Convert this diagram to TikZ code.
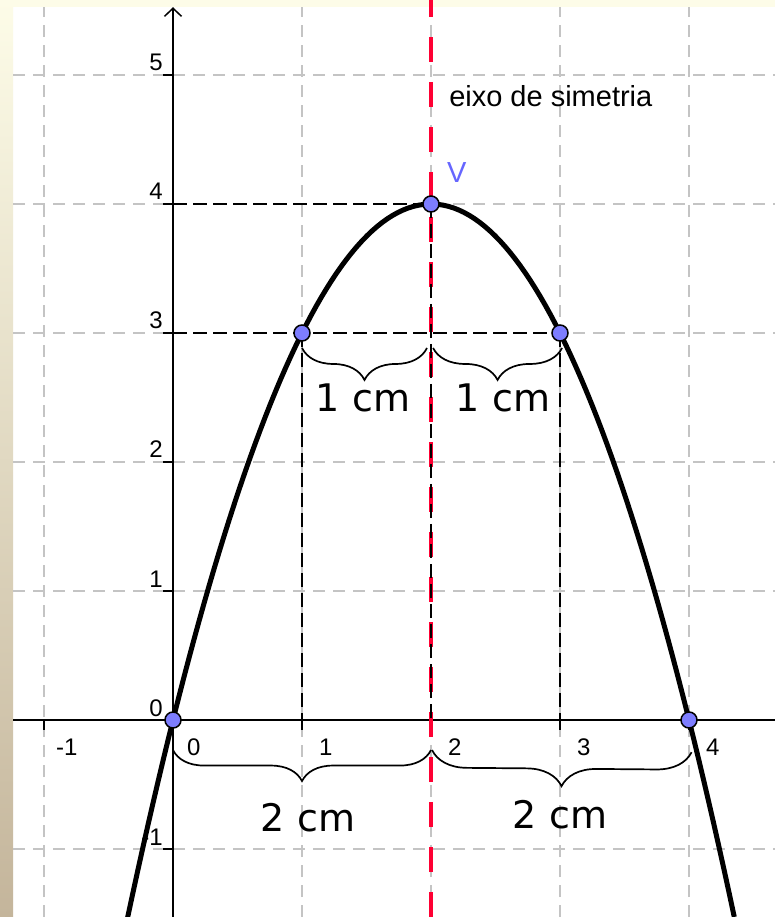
\documentclass[tikz,border=0pt]{standalone}
\usepackage{fontspec}
\setmainfont{Liberation Sans}
\newfontfamily\handfont{DejaVu Sans}
\usetikzlibrary{decorations.pathreplacing,arrows.meta}
\definecolor{gridgray}{RGB}{196,196,196}
\definecolor{symred}{RGB}{255,0,51}
\definecolor{ptblue}{RGB}{125,125,255}
\definecolor{vblue}{RGB}{102,102,255}
\definecolor{cream}{RGB}{253,252,232}
\definecolor{tanbg}{RGB}{196,181,155}
\begin{document}
\begin{tikzpicture}[x=129pt,y=129pt,
  gridline/.style={gridgray, line width=1.6pt, dash pattern=on 12pt off 8pt},
  guide/.style={black, line width=1.6pt, dash pattern=on 14pt off 6pt},
  redline/.style={symred, line width=3.5pt, dash pattern=on 25pt off 20pt},
  axisline/.style={black, line width=1.5pt},
  curve/.style={black, line width=5pt},
  bracestyle/.style={decorate, line width=1.7pt},
  ptmark/.style={circle, fill=ptblue, draw=black, line width=1.5pt, minimum size=16pt, inner sep=0pt},
  ticklab/.style={font=\fontsize{24}{28}\selectfont, inner sep=0pt},
  biglab/.style={font=\fontsize{29}{34}\selectfont, inner sep=0pt},
  cmlab/.style={font=\handfont\fontsize{38}{44}\selectfont, inner sep=0pt}
]
\useasboundingbox (-1.3411,-1.5271) rectangle (4.6667,5.5814);
% background
\fill[white] (-1.3411,-1.5271) rectangle (4.6667,5.5814);
\fill[cream] (-1.3411,5.5271) rectangle (4.6667,5.5814);
\shade[top color=cream, bottom color=tanbg] (-1.3411,-1.5271) rectangle (-1.2403,5.5814);
% grid
\foreach \x in {-1,...,4} \draw[gridline] (\x,-1.5271) -- (\x,5.5271);
\foreach \y in {-1,...,5} \draw[gridline] (-1.2403,\y) -- (4.6667,\y);
% axes
\coordinate (xl) at (-1.2403,0);
\coordinate (xr) at (4.6667,0);
\coordinate (yb) at (0,-1.5271);
\coordinate (yt) at (0,5.525);
\draw[axisline] (xl) -- (xr);
\draw[axisline, -{Straight Barb[length=8pt,width=17pt]}] (yb) -- (yt);
\foreach \y in {-1,...,5} {
  \draw[axisline] (0,\y) -- ++(-10pt,0);
  \node[ticklab, anchor=base east, xshift=-10pt, yshift=4pt] at (0,\y) {\y};
}
\foreach \x in {1,2,3,4} {
  \draw[axisline] (\x,0) -- ++(0,-10pt);
  \node[ticklab, anchor=base west, xshift=17pt, yshift=-35pt] at (\x,0) {\x};
}
\draw[axisline] (-1,0) -- ++(0,-10pt);
\node[ticklab, anchor=base west, xshift=12pt, yshift=-35pt] at (-1,0) {-1};
\node[ticklab, anchor=base west, xshift=14pt, yshift=-35pt] at (0,0) {0};
% symmetry axis
\coordinate (rt) at (2,5.5814);
\coordinate (rb) at (2,-1.5271);
\draw[redline] (rb) -- (rt);
% guide lines
\coordinate (Y4) at (0,4);
\coordinate (Y3) at (0,3);
\coordinate (X1) at (1,0);
\coordinate (X2) at (2,0);
\coordinate (X3) at (3,0);
\coordinate (P1) at (1,3);
\coordinate (P2) at (2,4);
\coordinate (P3) at (3,3);
\draw[guide] (Y4) -- (P2);
\draw[guide] (Y3) -- (P3);
\draw[guide] (P1) -- (X1);
\draw[guide] (P3) -- (X3);
\draw[guide] (P2) -- (X2);
% parabola
\draw[curve, domain=-0.352:4.352, samples=120] plot (\x, {\x*(4-\x)});
% braces
\coordinate (b1s) at (1.0,2.884);
\coordinate (b1e) at (1.969,2.884);
\coordinate (b2s) at (2.016,2.884);
\coordinate (b2e) at (3.016,2.884);
\coordinate (b3s) at (0.0,-0.233);
\coordinate (b3e) at (2.0,-0.233);
\coordinate (b4s) at (2.008,-0.233);
\coordinate (b4e) at (4.02,-0.25);
\draw[bracestyle, decoration={brace, mirror, amplitude=32pt}] (b1s) -- (b1e);
\draw[bracestyle, decoration={brace, mirror, amplitude=32pt}] (b2s) -- (b2e);
\draw[bracestyle, decoration={brace, mirror, amplitude=31pt}] (b3s) -- (b3e);
\draw[bracestyle, decoration={brace, mirror, amplitude=35pt}] (b4s) -- (b4e);
\node[cmlab] (c1) at (1.473,2.496) {1 cm};
\node[cmlab] (c2) at (2.558,2.496) {1 cm};
\node[cmlab] (c3) at (1.047,-0.760) {2 cm};
\node[cmlab] (c4) at (3.0,-0.736) {2 cm};
% points
\node[ptmark] (O) at (0,0) {};
\node[ptmark] (A) at (1,3) {};
\node[ptmark] (V) at (2,4) {};
\node[ptmark] (B) at (3,3) {};
\node[ptmark] (D) at (4,0) {};
% labels
\node[biglab, text=vblue, anchor=base west] (vl) at (2.124,4.163) {V};
\node[biglab, anchor=base west] (eixo) at (2.140,4.752) {eixo de simetria};
\end{tikzpicture}
\end{document}
